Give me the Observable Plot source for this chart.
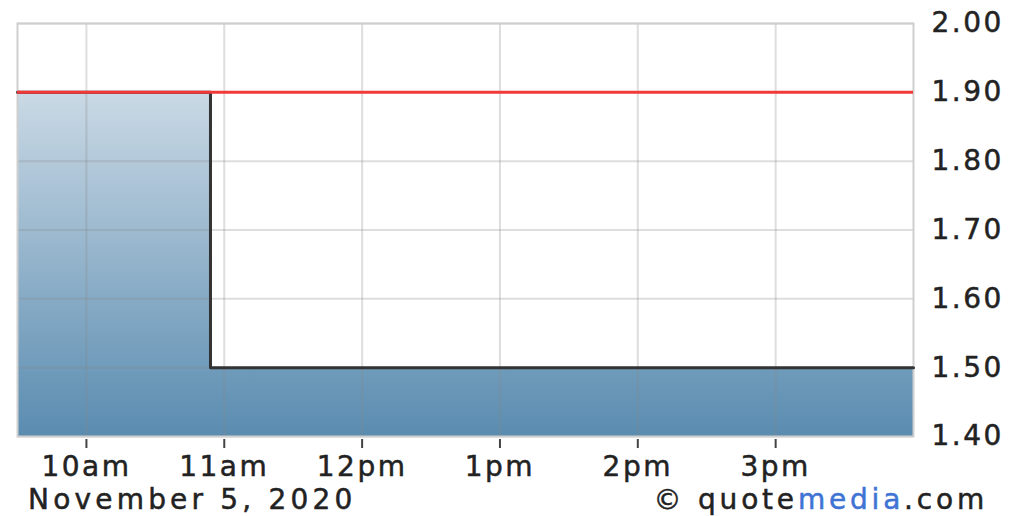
<!DOCTYPE html>
<html>
<head>
<meta charset="utf-8">
<script src="https://cdn.jsdelivr.net/npm/d3@7"></script>
<script src="https://cdn.jsdelivr.net/npm/@observablehq/plot@0.6"></script>
<style>
  body { margin: 0; background: #fff; }
  #wrap { width: 1013px; background: #fff; }
  #chart svg { display: block; }
  #chart svg text { stroke: #222; stroke-width: 0.5px; }
  #caption { display: flex; justify-content: space-between; height: 33px; line-height: 33px;
    font-family: "DejaVu Sans", sans-serif; font-size: 28px; color: #222; padding: 0 25px 0 28px; white-space: nowrap;
    -webkit-text-stroke: 0.5px #222; }
  #caption .date { letter-spacing: 4.2px; }
  #caption .credit { letter-spacing: 3.8px; }
  #caption .media { color: #3f74d4; -webkit-text-stroke: 0.5px #3f74d4; }
</style>
</head>
<body>
<div id="wrap">
  <div id="chart"></div>
  <div id="caption"></div>
</div>
<script>
// ---- data ----
const tradeTimes = ["09:30", "10:54", "16:00"];
const tradePrices = [1.90, 1.50, 1.50];
const previousClose = 1.90;
const sessionStart = "09:30";
const sessionEnd = "16:00";
const xTickTimes = ["10:00", "11:00", "12:00", "13:00", "14:00", "15:00"];
const xTickLabels = ["10am", "11am", "12pm", "1pm", "2pm", "3pm"];
const yTicks = [1.40, 1.50, 1.60, 1.70, 1.80, 1.90, 2.00];
const dateLabel = "November 5, 2020";

const toDate = (s) => { const [h, m] = s.split(":").map(Number); return new Date(Date.UTC(2020, 10, 5, h, m)); };
const data = tradeTimes.map((t, i) => ({ t: toDate(t), p: tradePrices[i] }));
const xTicks = xTickTimes.map(toDate);
const yMin = d3.min(yTicks), yMax = d3.max(yTicks);

const chart = Plot.plot({
  width: 1013,
  height: 483,
  marginLeft: 17,
  marginRight: 100,
  marginTop: 23,
  marginBottom: 47,
  style: { fontFamily: "DejaVu Sans", fontSize: "28px", color: "#222", background: "white", letterSpacing: "2.5px" },
  x: { type: "utc", domain: [toDate(sessionStart), toDate(sessionEnd)], label: null },
  y: { domain: [yMin, yMax], label: null },
  marks: [
    Plot.areaY(data, { x: "t", y1: yMin, y2: "p", curve: "step-after", fill: "url(#areaGrad)" }),
    Plot.gridX(xTicks, { stroke: "#888", strokeOpacity: 0.28, strokeWidth: 2 }),
    Plot.gridY(yTicks, { stroke: "#888", strokeOpacity: 0.28, strokeWidth: 2 }),
    Plot.frame({ stroke: "#cfcfcf", strokeWidth: 2 }),
    Plot.lineY(data, { x: "t", y: "p", curve: "step-after", stroke: "#333", strokeWidth: 3 }),
    Plot.ruleY([previousClose], { stroke: "#f03a3a", strokeWidth: 3 }),
    Plot.axisX(xTicks, {
      label: null, tickSize: 9, tickPadding: 8, dy: 3, stroke: "#444", strokeWidth: 2,
      tickFormat: (d) => xTickLabels[xTickTimes.indexOf(d3.utcFormat("%H:%M")(d))]
    }),
    Plot.axisY(yTicks, { label: null, anchor: "right", tickSize: 0, tickPadding: 18, tickFormat: d3.format(".2f") })
  ]
});

// gradient for the area fill
const ns = "http://www.w3.org/2000/svg";
const defs = document.createElementNS(ns, "defs");
const grad = document.createElementNS(ns, "linearGradient");
grad.setAttribute("id", "areaGrad");
grad.setAttribute("x1", "0"); grad.setAttribute("y1", "0");
grad.setAttribute("x2", "0"); grad.setAttribute("y2", "1");
[["0%", "#cad9e5"], ["100%", "#5a8cb0"]].forEach(([o, c]) => {
  const s = document.createElementNS(ns, "stop");
  s.setAttribute("offset", o); s.setAttribute("stop-color", c);
  grad.appendChild(s);
});
defs.appendChild(grad);
chart.insertBefore(defs, chart.firstChild);
document.getElementById("chart").appendChild(chart);

// caption
const cap = document.getElementById("caption");
const left = document.createElement("span");
left.className = "date";
left.textContent = dateLabel;
const right = document.createElement("span");
right.className = "credit";
right.innerHTML = '© quote<span class="media">media</span>.com';
cap.appendChild(left);
cap.appendChild(right);
</script>
</body>
</html>
